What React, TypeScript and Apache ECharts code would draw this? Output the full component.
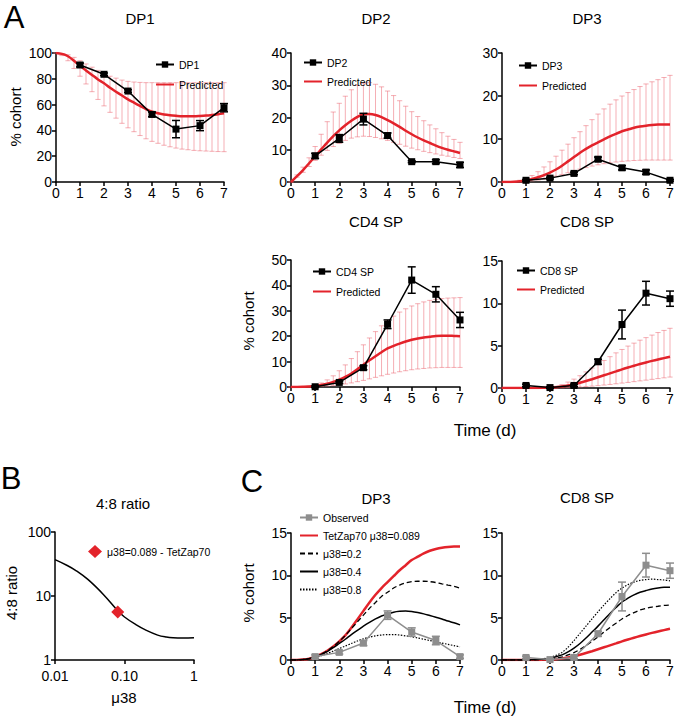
import React, { useEffect, useRef } from 'react';
import * as echarts from 'echarts';

const FONT = "'Liberation Sans', Arial, Helvetica, sans-serif";

// time grid for model predictions (days)
const T_PRED = [0, 0.25, 0.5, 0.75, 1, 1.25, 1.5, 1.75, 2, 2.25, 2.5, 2.75, 3, 3.25, 3.5, 3.75, 4, 4.25, 4.5, 4.75, 5, 5.25, 5.5, 5.75, 6, 6.25, 6.5, 6.75, 7];
const T_OBS = [1, 2, 3, 4, 5, 6, 7];

// Panel A – observed (mean, sem)
const DP1_OBS = [90.7, 83.5, 70.5, 52.4, 41, 43.7, 57.6];
const DP1_ERR = [1.5, 1, 1, 1.8, 6.7, 3.9, 3.2];
const DP2_OBS = [8.1, 13.5, 19.5, 14.4, 6.3, 6.3, 5.3];
const DP2_ERR = [0.8, 1.2, 1.8, 0.8, 0.3, 0.6, 0.8];
const DP3_OBS = [0.4, 0.9, 2, 5.3, 3.3, 2.3, 0.4];
const DP3_ERR = [0.2, 0.2, 0.3, 0.5, 0.5, 0.5, 0.2];
const CD4_OBS = [0.1, 1.8, 7.6, 24.7, 42.1, 36.5, 26.4];
const CD4_ERR = [0.3, 0.4, 0.8, 1.7, 5.2, 3, 3];
const CD8_OBS = [0.3, 0.05, 0.3, 3.1, 7.5, 11.2, 10.55];
const CD8_ERR = [0.15, 0.1, 0.15, 0.3, 1.7, 1.4, 0.9];

// Panel A – predictions (mean, low, high)
const DP1_PRED = [100, 99.3, 97.5, 94, 90, 86.5, 83, 79.5, 76.5, 73, 70, 67, 64, 61.5, 59, 56.5, 54.5, 53.3, 52.3, 51.7, 51.3, 51, 51, 51, 51.2, 51.5, 52, 52.6, 53.3];
const DP1_LO = [100, 98, 94, 88, 82, 76, 70, 64, 59, 54, 49.5, 45.5, 42, 39, 36, 33.5, 31.5, 30, 28.5, 27.3, 26.3, 25.5, 25, 24.5, 24.2, 24, 23.8, 23.6, 23.5];
const DP1_HI = [100, 99.6, 98.6, 96.6, 94, 91.5, 89, 86.5, 84, 82, 80.5, 79, 78, 77.5, 77.2, 77, 77, 77, 77, 77, 77, 77, 77, 77, 77, 77, 77, 77, 77];

const DP2_PRED = [0, 1.8, 3.7, 5.8, 8, 10.1, 12.2, 14.2, 16, 17.6, 19, 20.2, 21, 21.1, 20.8, 20.1, 19.2, 18.2, 17.1, 15.9, 14.8, 13.8, 12.9, 12.1, 11.3, 10.6, 10, 9.5, 9];
const DP2_LO = [0, 1.5, 3, 4.8, 6.7, 8.3, 9.8, 11, 12, 12.9, 13.6, 14, 14.2, 14.1, 13.8, 13.4, 12.9, 12.3, 11.7, 11.1, 10.5, 10, 9.5, 9.1, 8.7, 8.3, 8, 7.6, 7.3];
const DP2_HI = [0, 2.2, 4.6, 7.5, 11, 14.8, 18.7, 21.7, 24.4, 26.6, 28.6, 30, 30.6, 30.8, 30.3, 29.5, 28.2, 26.8, 25.2, 23.5, 21.8, 20.3, 19, 17.7, 16.5, 15.3, 14.2, 13.2, 12.3];

const DP3_PRED = [0, 0, 0.05, 0.15, 0.35, 0.7, 1.1, 1.6, 2.2, 2.9, 3.8, 4.8, 5.8, 6.8, 7.7, 8.5, 9.2, 9.9, 10.6, 11.2, 11.8, 12.2, 12.6, 12.9, 13.1, 13.25, 13.35, 13.4, 13.4];
const DP3_LO = [0, 0, 0, 0.05, 0.1, 0.25, 0.45, 0.7, 1, 1.35, 1.75, 2.15, 2.6, 3, 3.35, 3.7, 4, 4.25, 4.45, 4.65, 4.8, 4.9, 5, 5.05, 5.1, 5.1, 5.1, 5.1, 5.1];
const DP3_HI = [0, 0, 0.1, 0.4, 0.8, 1.5, 2.4, 3.5, 4.7, 6, 7.4, 8.8, 10.3, 11.7, 13.1, 14.5, 15.8, 17, 18.1, 19.1, 20, 20.8, 21.5, 22.2, 22.8, 23.3, 23.8, 24.3, 24.8];

const CD4_PRED = [0, 0, 0.05, 0.15, 0.4, 0.8, 1.3, 2, 2.9, 4, 5.3, 7, 8.8, 10.5, 12.1, 13.7, 15.2, 16.2, 17.1, 17.9, 18.6, 19.1, 19.5, 19.8, 20.1, 20.2, 20.2, 20.1, 20];
const CD4_LO = [0, 0, 0, 0.05, 0.1, 0.2, 0.35, 0.55, 0.8, 1.2, 1.6, 2.1, 2.6, 3.2, 3.8, 4.4, 5, 5.5, 6, 6.4, 6.8, 7.1, 7.3, 7.5, 7.6, 7.7, 7.7, 7.7, 7.7];
const CD4_HI = [0, 0, 0.1, 0.3, 0.8, 1.6, 2.8, 4.4, 6.4, 8.7, 11.2, 13.9, 16.6, 19.3, 21.8, 24.1, 26.1, 27.9, 29.5, 30.8, 31.9, 32.8, 33.5, 34.1, 34.5, 34.8, 35, 35.1, 35.2];

const CD8_PRED = [0, 0, 0, 0, 0, 0, 0, 0.02, 0.05, 0.1, 0.18, 0.3, 0.45, 0.62, 0.82, 1.04, 1.27, 1.5, 1.73, 1.96, 2.2, 2.42, 2.63, 2.83, 3.02, 3.2, 3.37, 3.53, 3.68];
const CD8_LO = [0, 0, 0, 0, 0, 0, 0, 0, 0, 0, 0.02, 0.05, 0.08, 0.12, 0.17, 0.22, 0.28, 0.35, 0.42, 0.5, 0.58, 0.66, 0.75, 0.84, 0.93, 1.02, 1.11, 1.2, 1.29];
const CD8_HI = [0, 0, 0, 0, 0, 0, 0, 0.03, 0.08, 0.2, 0.4, 0.7, 1.05, 1.45, 1.9, 2.35, 2.8, 3.25, 3.7, 4.15, 4.55, 4.95, 5.3, 5.65, 5.95, 6.25, 6.55, 6.8, 7.05];

// Panel B – 4:8 ratio vs mu38
const MU38 = [0.01, 0.015, 0.02, 0.03, 0.05, 0.08, 0.1, 0.15, 0.2, 0.3, 0.4, 0.5, 0.7, 1];
const RATIO48 = [37, 30, 25, 18, 10.5, 5.9, 4.7, 3.5, 2.95, 2.45, 2.28, 2.22, 2.2, 2.23];
const TETZAP_POINT = [0.08, 5.6];

// Panel C – alternative mu38 predictions
const C_DP3_02 = [0, 0, 0.05, 0.15, 0.35, 0.7, 1.1, 1.6, 2.2, 2.9, 3.7, 4.5, 5.3, 6.1, 6.8, 7.5, 8, 8.5, 8.85, 9.1, 9.25, 9.3, 9.3, 9.25, 9.15, 9, 8.85, 8.7, 8.5];
const C_DP3_04 = [0, 0, 0.05, 0.15, 0.35, 0.65, 1, 1.45, 1.95, 2.45, 3, 3.5, 4, 4.45, 4.85, 5.2, 5.45, 5.65, 5.75, 5.78, 5.72, 5.6, 5.45, 5.25, 5.05, 4.85, 4.6, 4.4, 4.15];
const C_DP3_08 = [0, 0, 0.05, 0.15, 0.3, 0.5, 0.75, 1.05, 1.35, 1.65, 1.95, 2.25, 2.5, 2.7, 2.85, 2.95, 3, 3, 2.95, 2.85, 2.75, 2.6, 2.45, 2.3, 2.15, 2, 1.85, 1.7, 1.55];
const C_CD8_02 = [0, 0, 0, 0, 0, 0, 0.02, 0.06, 0.12, 0.22, 0.38, 0.6, 0.88, 1.25, 1.7, 2.2, 2.75, 3.3, 3.85, 4.35, 4.85, 5.25, 5.6, 5.9, 6.1, 6.25, 6.35, 6.45, 6.5];
const C_CD8_04 = [0, 0, 0, 0, 0, 0.02, 0.06, 0.12, 0.22, 0.38, 0.6, 0.95, 1.4, 1.95, 2.6, 3.3, 4, 4.75, 5.5, 6.2, 6.85, 7.3, 7.7, 8, 8.2, 8.38, 8.5, 8.58, 8.6];
const C_CD8_08 = [0, 0, 0, 0, 0, 0.03, 0.08, 0.17, 0.32, 0.55, 0.9, 1.5, 2.3, 3.15, 4, 4.85, 5.7, 6.5, 7.25, 7.95, 8.5, 8.9, 9.2, 9.4, 9.5, 9.55, 9.5, 9.45, 9.35];

const RED = '#e3232b';
const PINK = 'rgba(236,96,108,0.5)';
const GRAY = '#8e8e8e';

const pairs = (xs: number[], ys: number[]) => xs.map((x, i) => [x, ys[i]]);
const bands = (xs: number[], lo: number[], hi: number[]) => xs.map((x, i) => [x, lo[i], hi[i]]);
const errs = (xs: number[], m: number[], e: number[]) => xs.map((x, i) => [x, m[i] - e[i], m[i] + e[i]]);

function errSeries(idx: number, data: number[][], color: string, cap: number, lw: number, z: number) {
  return {
    type: 'custom',
    name: '_err' + idx + '_' + z,
    xAxisIndex: idx,
    yAxisIndex: idx,
    z,
    silent: true,
    encode: { x: 0, y: [1, 2] },
    data,
    renderItem: (params: any, api: any) => {
      const x = api.value(0);
      const lo = api.coord([x, api.value(1)]);
      const hi = api.coord([x, api.value(2)]);
      const style = { stroke: color, lineWidth: lw, fill: 'none' };
      return {
        type: 'group',
        children: [
          { type: 'line', shape: { x1: lo[0], y1: lo[1], x2: hi[0], y2: hi[1] }, style },
          { type: 'line', shape: { x1: lo[0] - cap, y1: lo[1], x2: lo[0] + cap, y2: lo[1] }, style },
          { type: 'line', shape: { x1: hi[0] - cap, y1: hi[1], x2: hi[0] + cap, y2: hi[1] }, style },
        ],
      };
    },
  };
}

function predLine(idx: number, name: string, ys: number[], color: string, width: number, type: any, z: number) {
  return {
    type: 'line',
    name,
    xAxisIndex: idx,
    yAxisIndex: idx,
    data: pairs(T_PRED, ys),
    smooth: 0.3,
    symbol: 'none',
    z,
    lineStyle: { color, width, type },
    itemStyle: { color },
  };
}

function obsLine(idx: number, name: string, ys: number[], color: string) {
  return {
    type: 'line',
    name,
    xAxisIndex: idx,
    yAxisIndex: idx,
    data: pairs(T_OBS, ys),
    symbol: 'rect',
    symbolSize: 7,
    z: 6,
    lineStyle: { color, width: 1.5 },
    itemStyle: { color },
  };
}

const axisCommon = {
  axisLine: { show: true, onZero: false, lineStyle: { color: '#000', width: 1.5 } },
  axisTick: { show: true, length: 4, lineStyle: { color: '#000', width: 1.5 } },
  axisLabel: { color: '#000', fontSize: 14, fontFamily: FONT, margin: 4 },
  splitLine: { show: false },
};

function timeAxis(idx: number) {
  return { type: 'value', gridIndex: idx, min: 0, max: 7, interval: 1, ...axisCommon };
}
function valAxis(idx: number, max: number, interval: number) {
  return { type: 'value', gridIndex: idx, min: 0, max, interval, ...axisCommon };
}

const lineOnly = (name: string) => ({ name, itemStyle: { opacity: 0 } });

function legendBox(left: number, top: number, names: any[], itemHeight: number, gap: number, itemWidth = 18) {
  return {
    left,
    top,
    orient: 'vertical',
    itemWidth,
    itemHeight,
    itemGap: gap,
    selectedMode: false,
    padding: 0,
    data: names,
    textStyle: { color: '#000', fontSize: 10.5, fontFamily: FONT, padding: [0, 0, 0, 0] },
  };
}

function txt(text: string, x: number, y: number, size: number, rotate = false) {
  return {
    type: 'text',
    x,
    y,
    rotation: rotate ? Math.PI / 2 : 0,
    style: {
      text,
      fill: '#000',
      fontSize: size,
      fontFamily: FONT,
      align: 'center',
      verticalAlign: 'middle',
      textAlign: 'center',
      textVerticalAlign: 'middle',
    },
  };
}

function buildOption() {
  const C_NAMES = ['Observed', 'TetZap70 μ38=0.089', 'μ38=0.2', 'μ38=0.4', 'μ38=0.8'];
  const series: any[] = [];
  const panelsA = [
    { i: 0, name: 'DP1', obs: DP1_OBS, err: DP1_ERR, pred: DP1_PRED, lo: DP1_LO, hi: DP1_HI },
    { i: 1, name: 'DP2', obs: DP2_OBS, err: DP2_ERR, pred: DP2_PRED, lo: DP2_LO, hi: DP2_HI },
    { i: 2, name: 'DP3', obs: DP3_OBS, err: DP3_ERR, pred: DP3_PRED, lo: DP3_LO, hi: DP3_HI },
    { i: 3, name: 'CD4 SP', obs: CD4_OBS, err: CD4_ERR, pred: CD4_PRED, lo: CD4_LO, hi: CD4_HI },
    { i: 4, name: 'CD8 SP', obs: CD8_OBS, err: CD8_ERR, pred: CD8_PRED, lo: CD8_LO, hi: CD8_HI },
  ];
  panelsA.forEach((p) => {
    series.push(errSeries(p.i, bands(T_PRED, p.lo, p.hi), PINK, 2.6, 1, 1));
    series.push(predLine(p.i, 'Predicted', p.pred, RED, 2.5, 'solid', 3));
    series.push(errSeries(p.i, errs(T_OBS, p.obs, p.err), '#000', 4, 1.5, 5));
    series.push(obsLine(p.i, p.name, p.obs, '#000'));
  });

  // Panel B
  series.push({
    type: 'line',
    name: 'ratio',
    xAxisIndex: 5,
    yAxisIndex: 5,
    data: pairs(MU38, RATIO48),
    smooth: 0.4,
    symbol: 'none',
    lineStyle: { color: '#000', width: 1.5 },
    z: 2,
  });
  series.push({
    type: 'scatter',
    name: 'μ38=0.089 - TetZap70',
    xAxisIndex: 5,
    yAxisIndex: 5,
    data: [TETZAP_POINT],
    symbol: 'diamond',
    symbolSize: 13,
    itemStyle: { color: RED, opacity: 1 },
    z: 4,
  });

  // Panel C
  const cPanels = [
    { i: 6, obs: DP3_OBS, err: DP3_ERR, red: DP3_PRED, a: C_DP3_02, b: C_DP3_04, c: C_DP3_08 },
    { i: 7, obs: CD8_OBS, err: CD8_ERR, red: CD8_PRED, a: C_CD8_02, b: C_CD8_04, c: C_CD8_08 },
  ];
  cPanels.forEach((p) => {
    series.push(predLine(p.i, C_NAMES[1], p.red, RED, 2.5, 'solid', 3));
    series.push(predLine(p.i, C_NAMES[2], p.a, '#000', 1.3, [5, 3], 3));
    series.push(predLine(p.i, C_NAMES[3], p.b, '#000', 1.5, 'solid', 3));
    series.push(predLine(p.i, C_NAMES[4], p.c, '#000', 1.2, [1.5, 1.5], 3));
    series.push(errSeries(p.i, errs(T_OBS, p.obs, p.err), GRAY, 4, 1.5, 5));
    series.push(obsLine(p.i, C_NAMES[0], p.obs, GRAY));
  });

  const logFmtX = (v: number) => {
    const e = Math.round(Math.log10(v));
    return e <= -2 ? '0.01' : e === -1 ? '0.10' : '1';
  };
  const logFmtY = (v: number) => String(Math.round(v));

  return {
    animation: false,
    backgroundColor: '#fff',
    textStyle: { fontFamily: FONT },
    grid: [
      { left: 56, top: 53, width: 168, height: 129 },
      { left: 291, top: 53, width: 169, height: 129 },
      { left: 502, top: 53, width: 168, height: 129 },
      { left: 291, top: 260, width: 169, height: 127 },
      { left: 502, top: 261, width: 168, height: 127 },
      { left: 55, top: 532, width: 139, height: 128 },
      { left: 291, top: 533, width: 169, height: 127 },
      { left: 502, top: 533, width: 168, height: 127 },
    ],
    xAxis: [
      timeAxis(0), timeAxis(1), timeAxis(2), timeAxis(3), timeAxis(4),
      { type: 'log', logBase: 10, gridIndex: 5, min: 0.01, max: 1, ...axisCommon, axisLabel: { ...axisCommon.axisLabel, margin: 9, formatter: logFmtX }, minorTick: { show: false } },
      timeAxis(6), timeAxis(7),
    ],
    yAxis: [
      valAxis(0, 100, 20), valAxis(1, 40, 10), valAxis(2, 30, 10), valAxis(3, 50, 10), valAxis(4, 15, 5),
      { type: 'log', logBase: 10, gridIndex: 5, min: 1, max: 100, ...axisCommon, axisLabel: { ...axisCommon.axisLabel, formatter: logFmtY }, minorTick: { show: false } },
      valAxis(6, 15, 5), valAxis(7, 15, 5),
    ],
    legend: [
      legendBox(155, 59, ['DP1', lineOnly('Predicted')], 8, 9),
      legendBox(303, 57, ['DP2', lineOnly('Predicted')], 8, 8),
      legendBox(518, 60, ['DP3', lineOnly('Predicted')], 8, 9),
      legendBox(312, 266, ['CD4 SP', lineOnly('Predicted')], 8, 9),
      legendBox(516, 265, ['CD8 SP', lineOnly('Predicted')], 8, 8),
      legendBox(88, 545, [{ name: 'μ38=0.089 - TetZap70', icon: 'diamond', itemStyle: { opacity: 1, color: RED } }], 13, 5, 14),
      legendBox(299, 512, [C_NAMES[0], lineOnly(C_NAMES[1]), lineOnly(C_NAMES[2]), lineOnly(C_NAMES[3]), lineOnly(C_NAMES[4])], 8, 7),
    ],
    graphic: [
      txt('A', 14, 17, 31),
      txt('DP1', 140, 18, 15),
      txt('DP2', 376, 18, 15),
      txt('DP3', 587, 18, 15),
      txt('CD4 SP', 376, 221, 15),
      txt('CD8 SP', 587, 221, 15),
      txt('% cohort', 15, 117, 15, true),
      txt('% cohort', 248, 321, 15, true),
      txt('Time (d)', 485, 430, 17),
      txt('B', 11, 478, 31),
      txt('4:8 ratio', 123, 503, 15),
      txt('4:8 ratio', 11, 593, 15, true),
      txt('μ38', 124, 697, 15),
      txt('C', 252, 481, 31),
      txt('DP3', 376, 498, 15),
      txt('CD8 SP', 587, 497, 15),
      txt('% cohort', 248, 593, 15, true),
      txt('Time (d)', 485, 707, 17),
    ],
    series,
  };
}

export default function App() {
  const ref = useRef<HTMLDivElement>(null);
  useEffect(() => {
    if (!ref.current) return;
    const chart = echarts.init(ref.current, null, { renderer: 'svg' });
    chart.setOption(buildOption() as any);
    return () => chart.dispose();
  }, []);
  return (
    <div
      ref={ref}
      style={{ position: 'absolute', left: 0, top: 0, width: 677, height: 720, background: '#fff' }}
    />
  );
}
